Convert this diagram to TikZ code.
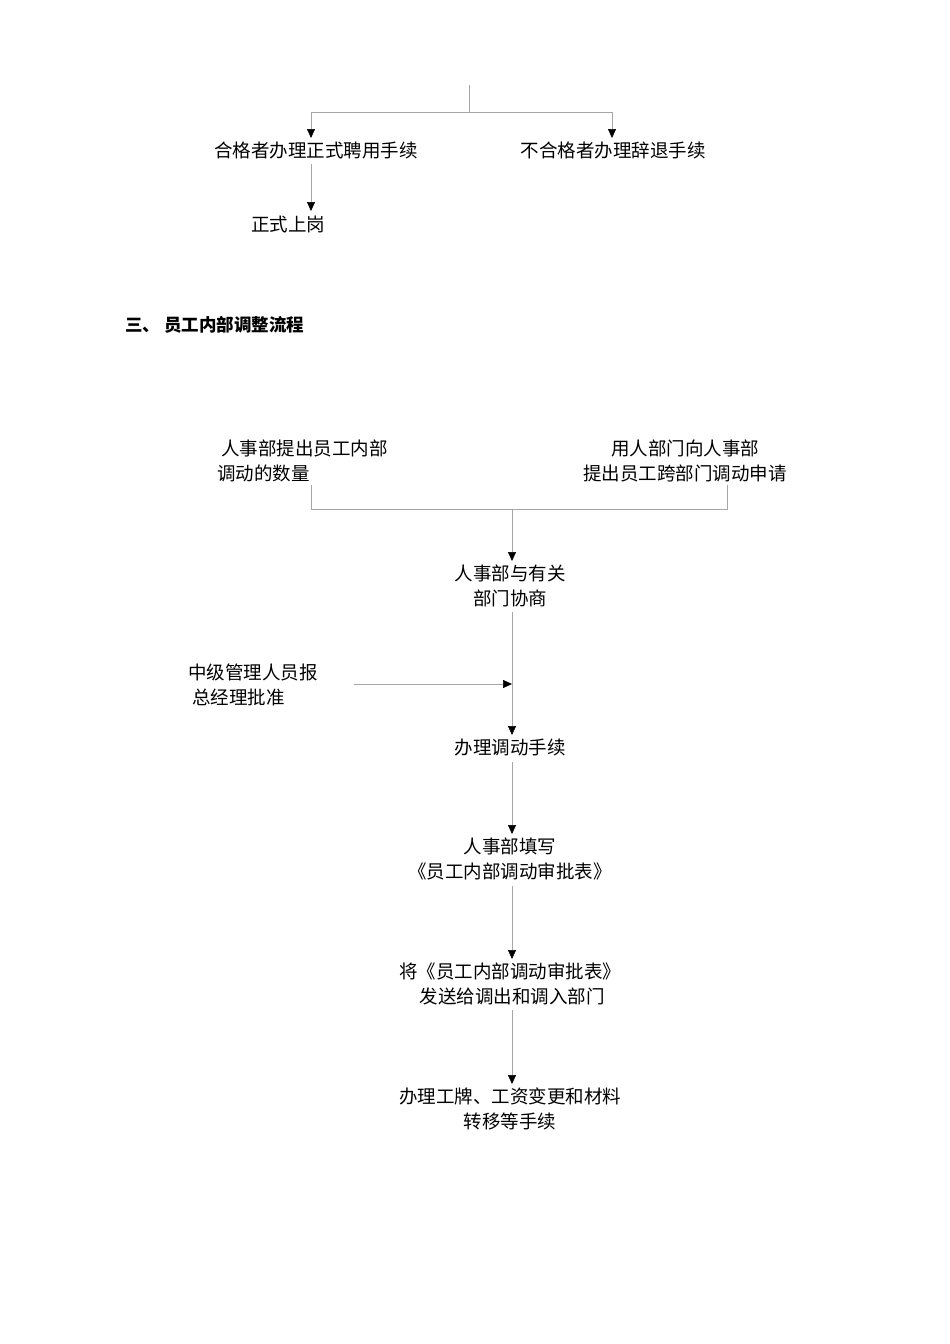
\documentclass[tikz,border=0pt]{standalone}
\usepackage{fontspec}
\newfontfamily\cjk{Noto Sans CJK SC}
\usetikzlibrary{arrows.meta}
\tikzset{
 ln/.style={draw=gray!70, line width=0.6pt},
 ar/.style={ln, -{Triangle[length=9pt,width=8pt,fill=black,color=black]}},
 tx/.style={font=\cjk\fontsize{18.5}{25}\selectfont, inner sep=0pt, align=center},
}
\begin{document}
\begin{tikzpicture}[x=1pt,y=-1pt]
\useasboundingbox (0,0) rectangle (950,1344);
% top part
\coordinate (t0) at (469,85);
\coordinate (t1) at (469,112);
\coordinate (tl) at (311,112);
\coordinate (tr) at (612,112);
\node[tx] (a1) at (316,150) {合格者办理正式聘用手续};
\node[tx] (a2) at (613,150) {不合格者办理辞退手续};
\node[tx] (a3) at (288,224) {正式上岗};
\draw[ln] (t0)--(t1);
\draw[ln] (tl)--(tr);
\draw[ar] (tl)--(311,138);
\draw[ar] (tr)--(612,138);
\draw[ar] (311,164)--(311,211);
% heading
\node[font=\cjk\bfseries\fontsize{17.5}{20}\selectfont, anchor=west, inner sep=0pt] (h) at (125,325) {三、\ 员工内部调整流程};
% second flow
\node[tx, align=left, anchor=west] (b1) at (217,461) {\ 人事部提出员工内部\\调动的数量};
\node[tx] (b2) at (685,461) {用人部门向人事部\\提出员工跨部门调动申请};
\node[tx] (c1) at (510,586) {人事部与有关\\部门协商};
\node[tx, align=left, anchor=west] (m) at (188,685) {中级管理人员报\\\ 总经理批准};
\node[tx] (c2) at (510,747) {办理调动手续};
\node[tx] (c3) at (510,859) {人事部填写\\《员工内部调动审批表》};
\node[tx] (c4) at (510,984) {将《员工内部调动审批表》\\\ 发送给调出和调入部门};
\node[tx] (c5) at (510,1109) {办理工牌、工资变更和材料\\转移等手续};
\coordinate (j) at (512,509);
\draw[ln] (311,485)--(311,509)--(727,509)--(727,485);
\draw[ar] (j)--(512,561);
\coordinate (k) at (512,684);
\draw[ar] (512,612)--(512,735);
\draw[ar] (354,684)--(k);
\draw[ar] (512,762)--(512,834);
\draw[ar] (512,886)--(512,959);
\draw[ar] (512,1010)--(512,1084);
\end{tikzpicture}
\end{document}
